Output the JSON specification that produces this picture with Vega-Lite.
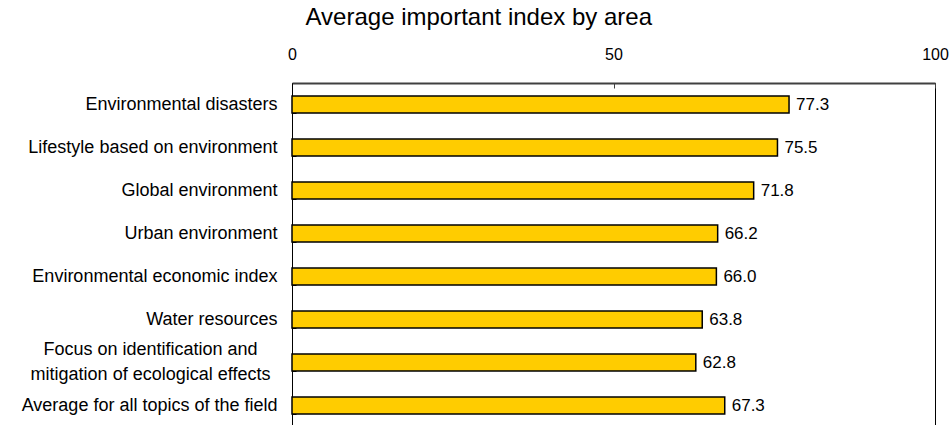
{
  "$schema": "https://vega.github.io/schema/vega-lite/v6.json",
  "autosize": {"type": "none"},
  "padding": {"left": 292, "top": 83, "right": 17, "bottom": 0},
  "width": 643,
  "height": 344,
  "title": {
    "text": "Average important index by area",
    "frame": "bounds",
    "anchor": "middle",
    "font": "Liberation Sans",
    "fontSize": 24,
    "fontWeight": "normal",
    "color": "black",
    "offset": 16,
    "dx": -6
  },
  "config": {
    "view": {"stroke": "black", "strokeWidth": 1},
    "font": "Liberation Sans"
  },
  "data": {
    "values": [
      {"area": "Environmental disasters", "value": 77.3},
      {"area": "Lifestyle based on environment", "value": 75.5},
      {"area": "Global environment", "value": 71.8},
      {"area": "Urban environment", "value": 66.2},
      {"area": "Environmental economic index", "value": 66.0},
      {"area": "Water resources", "value": 63.8},
      {"area": "Focus on identification and mitigation of ecological effects", "value": 62.8},
      {"area": "Average for all topics of the field", "value": 67.3}
    ]
  },
  "encoding": {
    "y": {
      "field": "area",
      "type": "nominal",
      "sort": null,
      "scale": {"paddingInner": 0.6, "paddingOuter": 0.3},
      "axis": {
        "title": null,
        "orient": "left",
        "domainColor": "black",
        "domainWidth": 1,
        "tickBand": "extent",
        "tickColor": "black",
        "tickSize": -4,
        "labelPadding": {"condition": {"test": "datum.value == 'Focus on identification and mitigation of ecological effects'", "value": 146}, "value": 19},
        "labelAlign": {"condition": {"test": "datum.value == 'Focus on identification and mitigation of ecological effects'", "value": "center"}, "value": "right"},
        "labelFont": "Liberation Sans",
        "labelFontSize": 18,
        "labelColor": "black",
        "labelLimit": 0,
        "labelLineHeight": 25,
        "labelOffset": {"condition": {"test": "datum.value == 'Focus on identification and mitigation of ecological effects'", "value": -13}, "value": 0},
        "labelExpr": "datum.value == 'Focus on identification and mitigation of ecological effects' ? ['Focus on identification and', 'mitigation of ecological effects'] : datum.label"
      }
    },
    "x": {
      "field": "value",
      "type": "quantitative",
      "scale": {"domain": [0, 100], "nice": false},
      "axis": {
        "title": null,
        "orient": "top",
        "values": [0, 50, 100],
        "grid": false,
        "domainColor": "#404040",
        "domainWidth": 2,
        "tickColor": "#404040",
        "tickSize": -5,
        "labelPadding": 26,
        "labelFont": "Liberation Sans",
        "labelFontSize": 16,
        "labelColor": "black",
        "labelFlush": false
      }
    }
  },
  "layer": [
    {
      "mark": {"type": "bar", "fill": "#FFCC00", "stroke": "black", "strokeWidth": 1.5}
    },
    {
      "mark": {"type": "text", "align": "left", "baseline": "middle", "dx": 7, "fontSize": 17, "font": "Liberation Sans", "color": "black"},
      "encoding": {
        "text": {"field": "value", "type": "quantitative", "format": ".1f"}
      }
    }
  ]
}
